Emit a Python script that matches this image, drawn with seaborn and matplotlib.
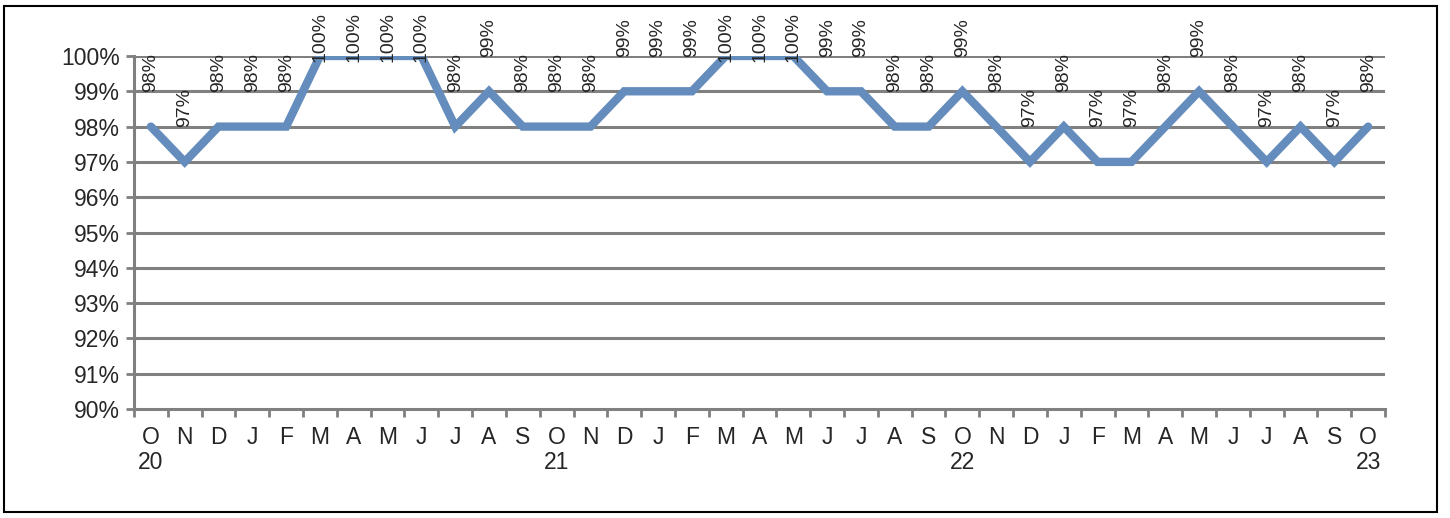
import numpy as np
import pandas as pd
import seaborn as sns
import matplotlib.pyplot as plt
from matplotlib.patches import Rectangle
from matplotlib.ticker import FixedLocator, FuncFormatter

months = ['O', 'N', 'D', 'J', 'F', 'M', 'A', 'M', 'J', 'J', 'A', 'S',
          'O', 'N', 'D', 'J', 'F', 'M', 'A', 'M', 'J', 'J', 'A', 'S',
          'O', 'N', 'D', 'J', 'F', 'M', 'A', 'M', 'J', 'J', 'A', 'S', 'O']
years = {0: '20', 12: '21', 24: '22', 36: '23'}
values = [98, 97, 98, 98, 98, 100, 100, 100, 100, 98, 99, 98,
          98, 98, 99, 99, 99, 100, 100, 100, 99, 99, 98, 98,
          99, 98, 97, 98, 97, 97, 98, 99, 98, 97, 98, 97, 98]

df = pd.DataFrame({'idx': np.arange(len(values)), 'val': values})

sns.set_style('white')
plt.rcParams['font.family'] = ['Liberation Sans', 'DejaVu Sans']

fig = plt.figure(figsize=(14.5, 5.18), dpi=100)
ax = fig.add_axes([0.0924, 0.2104, 0.8628, 0.6815])

grid_c = '#808080'
sns.lineplot(data=df, x='idx', y='val', ax=ax, color='#648DBD',
             linewidth=6, solid_joinstyle='miter', zorder=3)

ax.set_ylim(90, 100)
ax.set_xlim(-0.5, len(values) - 0.5)
ax.set_yticks(range(90, 101))
ax.yaxis.set_major_formatter(FuncFormatter(lambda v, p: '%d%%' % v))
for y in range(91, 101):
    ax.axhline(y, color=grid_c, linewidth=2.2, zorder=1)

labels = [m + ('\n' + years[i] if i in years else '') for i, m in enumerate(months)]
ax.set_xticks(df['idx'])
ax.set_xticklabels(labels, fontsize=16.5, linespacing=1.15)
ax.xaxis.set_minor_locator(FixedLocator(np.arange(-0.5, len(values), 1)))
ax.tick_params(axis='x', which='major', length=0, pad=12)
ax.tick_params(axis='x', which='minor', length=6, width=2, color=grid_c, bottom=True)
ax.tick_params(axis='y', length=6, width=2, color=grid_c, labelsize=16.5, pad=4, left=True)
ax.set_xlabel('')
ax.set_ylabel('')

for s in ['top', 'right']:
    ax.spines[s].set_visible(False)
for s in ['left', 'bottom']:
    ax.spines[s].set_color(grid_c)
    ax.spines[s].set_linewidth(2.2)

for i, v in enumerate(values):
    off = -4 if v >= 100 else 25
    ax.annotate('%d%%' % v, (i, v), xytext=(0, off), textcoords='offset points',
                rotation=90, ha='center', va='bottom', fontsize=14,
                annotation_clip=False, zorder=4)

fig.patches.append(Rectangle((4 / 1450, 6 / 518), 1433 / 1450, 506 / 518,
                             transform=fig.transFigure, fill=False,
                             edgecolor='black', linewidth=1.5))

fig.savefig('out.png', dpi=100)
